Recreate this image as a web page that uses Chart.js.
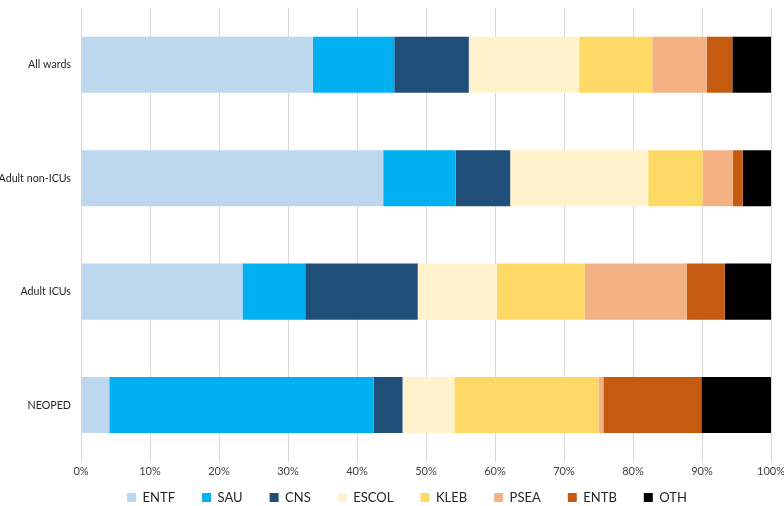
<!DOCTYPE html>
<html><head><meta charset="utf-8">
<script src="https://cdn.jsdelivr.net/npm/chart.js@4/dist/chart.umd.min.js"></script>
<style>html,body{margin:0;padding:0;background:#fff}#wrap{width:784px;height:506px}</style>
</head><body><div id="wrap"><canvas id="c" width="784" height="506"></canvas></div>
<script>
const categories = ["All wards", "Adult non-ICUs", "Adult ICUs", "NEOPED"];
const seriesNames = ["ENTF", "SAU", "CNS", "ESCOL", "KLEB", "PSEA", "ENTB", "OTH"];
const ENTF  = [33.6, 43.8, 23.4, 4.1];
const SAU   = [11.8, 10.5, 9.1, 38.3];
const CNS   = [10.8, 7.9, 16.3, 4.2];
const ESCOL = [16.0, 20.0, 11.5, 7.5];
const KLEB  = [10.6, 7.9, 12.7, 20.9];
const PSEA  = [7.9, 4.4, 14.8, 0.7];
const ENTB  = [3.7, 1.4, 5.5, 14.2];
const OTH   = [5.6, 4.1, 6.7, 10.1];
const xTicks = [0,10,20,30,40,50,60,70,80,90,100];
const colors = ["#bdd7ee", "#00b0f0", "#1f4e79", "#fff2cc", "#ffd966", "#f4b183", "#c55a11", "#000000"];
const values = [ENTF, SAU, CNS, ESCOL, KLEB, PSEA, ENTB, OTH];
const FONT = "Lato";

const legendAdjust = {
  id: 'legendAdjust',
  beforeLayout(chart) {
    const lg = chart.legend;
    if (lg && !lg._adj) {
      const od = lg.draw.bind(lg);
      lg.draw = function () {
        const t = this.top, l = this.left;
        this.top = t - 17; this.left = l + 43;
        od();
        this.top = t; this.left = l;
      };
      lg._adj = true;
    }
  }
};

new Chart(document.getElementById('c'), {
  type: 'bar',
  data: {
    labels: categories,
    datasets: seriesNames.map((n, i) => ({
      label: n, data: values[i], backgroundColor: colors[i], borderWidth: 0,
      barPercentage: 0.494, categoryPercentage: 1.0
    }))
  },
  options: {
    indexAxis: 'y', responsive: false, animation: false,
    layout: { padding: { top: 8, right: 13, left: 0, bottom: 0 } },
    scales: {
      x: {
        stacked: true, min: 0, max: 100,
        afterBuildTicks: s => { s.ticks = xTicks.map(v => ({ value: v })); },
        afterFit: s => { s.paddingLeft = 0; s.paddingRight = 0; },
        ticks: { callback: v => v + '%', color: '#404040', font: { family: FONT, size: 11 }, padding: 3, maxRotation: 0 },
        grid: { color: '#d9d9d9', drawTicks: false, lineWidth: 1 },
        border: { display: false }
      },
      y: {
        stacked: true,
        afterFit: s => { s.width = 81; s.paddingTop = 0; s.paddingBottom = 0; },
        ticks: { color: '#262626', font: { family: FONT, size: 10.7 }, padding: 10 },
        grid: { display: false, drawTicks: false },
        border: { display: true, color: '#d9d9d9' }
      }
    },
    plugins: {
      legend: {
        position: 'bottom', maxHeight: 25,
        labels: { boxWidth: 9, boxHeight: 9, padding: 27, color: '#262626', font: { family: FONT, size: 13 } }
      },
      tooltip: { enabled: false }
    }
  },
  plugins: [legendAdjust]
});
</script></body></html>
